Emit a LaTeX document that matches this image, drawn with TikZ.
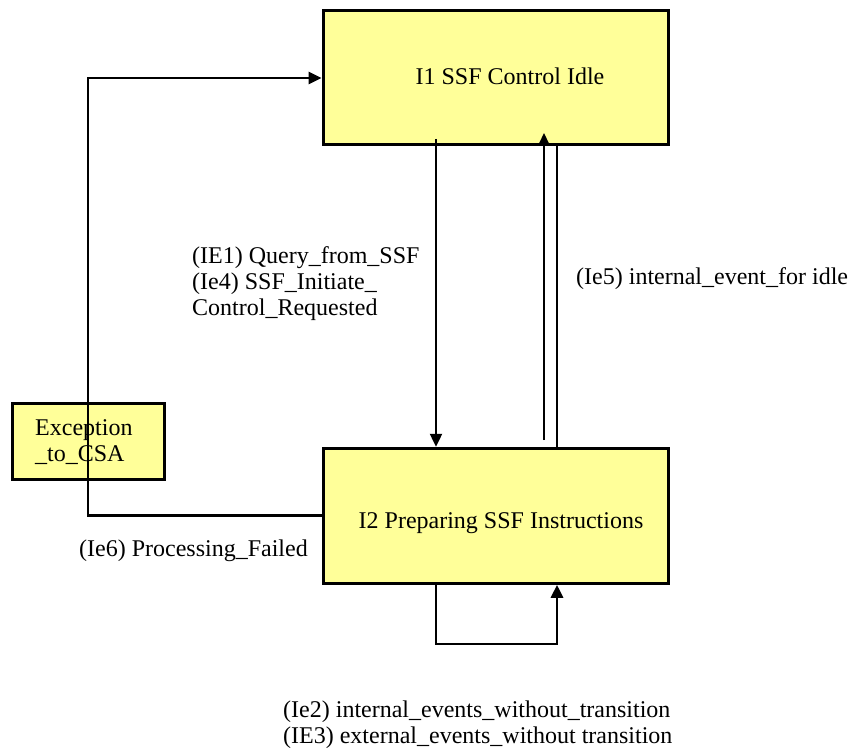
\documentclass[tikz,border=0pt]{standalone}
\usepackage{fontspec}
\setmainfont{Liberation Serif}
\usetikzlibrary{arrows.meta}

\newlength{\du}
\setlength{\du}{1pt}
\definecolor{statefill}{rgb}{1.000000, 1.000000, 0.600000}

\tikzset{
  statebox/.style={draw=black, fill=statefill, line width=3\du, inner sep=0pt},
  evtext/.style={inner sep=0pt, align=left, font=\fontsize{24}{26}\selectfont},
  link/.style={line width=2.8\du, -{Triangle[length=13pt,width=12pt]}},
}

\begin{document}
\begin{tikzpicture}
\pgftransformxscale{1.000000}
\pgftransformyscale{-1.000000}
\useasboundingbox (0\du,0\du) rectangle (849\du,751\du);
% states
\node[statebox, minimum width=345\du, minimum height=134\du] (idle) at (495.5\du,78\du) {};
\node[evtext, anchor=base] (idletxt) at (510\du,85\du) {I1 SSF Control Idle};
\node[statebox, minimum width=345\du, minimum height=135\du] (prep) at (495.5\du,515.8\du) {};
\node[evtext, anchor=base] (preptxt) at (501\du,528\du) {I2 Preparing SSF Instructions};
\node[statebox, minimum width=152\du, minimum height=76\du] (exc) at (88\du,441\du) {};
\node[evtext, anchor=north west] (exctxt) at (35\du,419.5\du) {Exception\\\_to\_CSA};
% idle -> preparing
\coordinate (query) at (436\du,139\du);
\draw[link, line width=2.2\du] (query) -- (query |- prep.north);
% preparing -> idle
\coordinate (back) at (544\du,440\du);
\coordinate (backtip) at (544\du,133\du);
\draw[link, line width=1.7\du] (back) -- (backtip);
\coordinate (backline) at (557\du,300\du);
\draw[line width=2.2\du] (backline |- idle.south) -- (backline |- prep.north);
% no transition
\coordinate (loop) at (436\du,644\du);
\coordinate (loopend) at (557\du,644\du);
\draw[link] (loop |- prep.south) -- (loop) -- (loopend) -- (loopend |- prep.south);
% processing failed
\draw[link] (prep.west) -- (prep.west -| exc) |- (idle.west);
% setfont left to latex
\node[evtext, anchor=north west] (qlbl) at (192\du,246\du) {(IE1) Query\_from\_SSF\\(Ie4) SSF\_Initiate\_\\Control\_Requested};
\node[evtext, anchor=base west] (idlelbl) at (576\du,285\du) {(Ie5) internal\_event\_for idle};
\node[evtext, anchor=base west] (faillbl) at (79\du,556.5\du) {(Ie6) Processing\_Failed};
\node[evtext, anchor=north west] (looplbl) at (283\du,700.5\du) {(Ie2) internal\_events\_without\_transition\\(IE3) external\_events\_without transition};
\end{tikzpicture}
\end{document}
